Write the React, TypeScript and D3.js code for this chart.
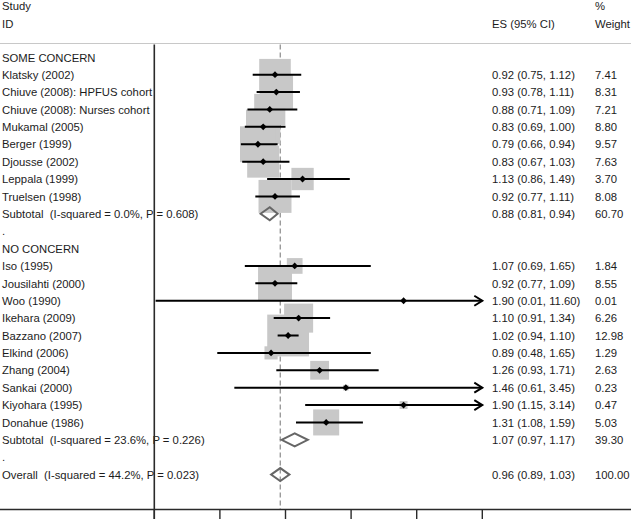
import React from "react";
import * as d3 from "d3";

const W = 631;
const H = 519;

const groupNames = ["SOME CONCERN", "NO CONCERN"];

const studies1 = [
  "Klatsky (2002)",
  "Chiuve (2008): HPFUS cohort",
  "Chiuve (2008): Nurses cohort",
  "Mukamal (2005)",
  "Berger (1999)",
  "Djousse (2002)",
  "Leppala (1999)",
  "Truelsen (1998)",
];
const es1 = [0.92, 0.93, 0.88, 0.83, 0.79, 0.83, 1.13, 0.92];
const lo1 = [0.75, 0.78, 0.71, 0.69, 0.66, 0.67, 0.86, 0.77];
const hi1 = [1.12, 1.11, 1.09, 1.0, 0.94, 1.03, 1.49, 1.11];
const wt1 = [7.41, 8.31, 7.21, 8.8, 9.57, 7.63, 3.7, 8.08];

const studies2 = [
  "Iso (1995)",
  "Jousilahti (2000)",
  "Woo (1990)",
  "Ikehara (2009)",
  "Bazzano (2007)",
  "Elkind (2006)",
  "Zhang (2004)",
  "Sankai (2000)",
  "Kiyohara (1995)",
  "Donahue (1986)",
];
const es2 = [1.07, 0.92, 1.9, 1.1, 1.02, 0.89, 1.26, 1.46, 1.9, 1.31];
const lo2 = [0.69, 0.77, 0.01, 0.91, 0.94, 0.48, 0.93, 0.61, 1.15, 1.08];
const hi2 = [1.65, 1.09, 11.6, 1.34, 1.1, 1.65, 1.71, 3.45, 3.14, 1.59];
const wt2 = [1.84, 8.55, 0.01, 6.26, 12.98, 1.29, 2.63, 0.23, 0.47, 5.03];

const subtotalLabels = [
  "Subtotal  (I-squared = 0.0%, P = 0.608)",
  "Subtotal  (I-squared = 23.6%, P = 0.226)",
];
const subES = [0.88, 1.07];
const subLo = [0.81, 0.97];
const subHi = [0.94, 1.17];
const subWt = [60.7, 39.3];

const overallLabel = "Overall  (I-squared = 44.2%, P = 0.023)";
const overallES = 0.96;
const overallLo = 0.89;
const overallHi = 1.03;
const overallWt = 100.0;

const xTicks = [0, 0.5, 1, 1.5, 2, 2.5];

type Row =
  | { kind: "header"; label: string }
  | { kind: "study"; label: string; es: number; lo: number; hi: number; w: number }
  | { kind: "pooled"; label: string; es: number; lo: number; hi: number; w: number }
  | { kind: "dot" };

function buildRows(): Row[] {
  const rows: Row[] = [];
  const groups = [
    { s: studies1, e: es1, l: lo1, h: hi1, w: wt1 },
    { s: studies2, e: es2, l: lo2, h: hi2, w: wt2 },
  ];
  groups.forEach((g, gi) => {
    rows.push({ kind: "header", label: groupNames[gi] });
    g.s.forEach((s, i) =>
      rows.push({ kind: "study", label: s, es: g.e[i], lo: g.l[i], hi: g.h[i], w: g.w[i] })
    );
    rows.push({
      kind: "pooled",
      label: subtotalLabels[gi],
      es: subES[gi],
      lo: subLo[gi],
      hi: subHi[gi],
      w: subWt[gi],
    });
    rows.push({ kind: "dot" });
  });
  rows.push({
    kind: "pooled",
    label: overallLabel,
    es: overallES,
    lo: overallLo,
    hi: overallHi,
    w: overallWt,
  });
  return rows;
}

const fmt = (v: number) => v.toFixed(2);

export default function App() {
  const rows = buildRows();
  const x = d3.scaleLinear().domain([0, 2.5]).range([154.3, 482.3]);
  const y = d3
    .scaleLinear()
    .domain([0, rows.length - 1])
    .range([57.3, 474.6]);
  const xMax = x.domain()[1];
  const font = "'Liberation Sans', Arial, sans-serif";
  const fs = 11.3;
  const textColor = "#1c1c1c";
  const axisY = 509.5;
  const topLineY = 43.5;
  const esX = 492;
  const wX = 595;
  const boxK = 11.6;
  const diamondH = 6.5;
  const pre = { whiteSpace: "pre" as const };

  const studyRows = rows
    .map((r, i) => ({ r, i }))
    .filter((d) => d.r.kind === "study") as { r: Extract<Row, { kind: "study" }>; i: number }[];
  const pooledRows = rows
    .map((r, i) => ({ r, i }))
    .filter((d) => d.r.kind === "pooled") as { r: Extract<Row, { kind: "pooled" }>; i: number }[];

  return (
    <svg
      width={W}
      height={H}
      style={{ position: "absolute", left: 0, top: 0, background: "#fff" }}
      fontFamily={font}
      fontSize={fs}
    >
      <rect x={0} y={0} width={W} height={H} fill="#fff" />
      {/* header */}
      <text x={2} y={10} fill={textColor}>Study</text>
      <text x={2} y={27.5} fill={textColor}>ID</text>
      <text x={esX} y={27.5} fill={textColor}>ES (95% CI)</text>
      <text x={wX} y={10} fill={textColor}>%</text>
      <text x={wX} y={27.5} fill={textColor}>Weight</text>
      <line x1={0} x2={W} y1={topLineY} y2={topLineY} stroke="#c8c8c8" strokeWidth={1} />

      {/* dashed overall line */}
      <line
        x1={x(overallES)}
        x2={x(overallES)}
        y1={topLineY + 1}
        y2={axisY}
        stroke="#8a8a8a"
        strokeWidth={1.2}
        strokeDasharray="5,3"
      />

      {/* boxes */}
      {studyRows.map(({ r, i }) => {
        const s = boxK * Math.sqrt(r.w);
        return (
          <rect
            key={"b" + i}
            x={x(r.es) - s / 2}
            y={y(i) - s / 2}
            width={s}
            height={s}
            fill="#c8c8c8"
          />
        );
      })}

      {/* left labels */}
      {rows.map((r, i) => {
        if (r.kind === "dot")
          return (
            <text key={"l" + i} x={2} y={y(i) + 4} fill={textColor}>.</text>
          );
        return (
          <text key={"l" + i} x={2} y={y(i) + 4.2} fill={textColor} style={pre}>
            {r.label}
          </text>
        );
      })}

      {/* null line */}
      <line x1={x(0)} x2={x(0)} y1={topLineY + 1} y2={H} stroke="#2a2a2a" strokeWidth={1.6} />

      {/* CI lines and markers */}
      {studyRows.map(({ r, i }) => {
        const yy = y(i);
        const clipped = r.hi > xMax;
        const x2 = x(Math.min(r.hi, xMax));
        const m = 3.4;
        return (
          <g key={"c" + i}>
            <line x1={x(r.lo)} x2={x2} y1={yy} y2={yy} stroke="#000" strokeWidth={2} />
            {clipped && (
              <polyline
                points={`${x2 - 8},${yy - 5} ${x2},${yy} ${x2 - 8},${yy + 5}`}
                fill="none"
                stroke="#000"
                strokeWidth={2}
              />
            )}
            <path
              d={`M${x(r.es) - m},${yy} L${x(r.es)},${yy - m} L${x(r.es) + m},${yy} L${x(r.es)},${yy + m} Z`}
              fill="#000"
            />
          </g>
        );
      })}

      {/* pooled diamonds */}
      {pooledRows.map(({ r, i }) => {
        const yy = y(i);
        return (
          <path
            key={"d" + i}
            d={`M${x(r.lo)},${yy} L${x(r.es)},${yy - diamondH} L${x(r.hi)},${yy} L${x(r.es)},${yy + diamondH} Z`}
            fill="none"
            stroke="#666"
            strokeWidth={2}
          />
        );
      })}

      {/* right columns */}
      {rows.map((r, i) => {
        if (r.kind !== "study" && r.kind !== "pooled") return null;
        return (
          <g key={"r" + i}>
            <text x={esX} y={y(i) + 4.2} fill={textColor}>
              {`${fmt(r.es)} (${fmt(r.lo)}, ${fmt(r.hi)})`}
            </text>
            <text x={wX} y={y(i) + 4.2} fill={textColor}>
              {fmt(r.w)}
            </text>
          </g>
        );
      })}

      {/* x axis */}
      <line x1={0} x2={W} y1={axisY} y2={axisY} stroke="#2a2a2a" strokeWidth={1.6} />
      {xTicks.map((t) => (
        <line key={"t" + t} x1={x(t)} x2={x(t)} y1={axisY} y2={H} stroke="#2a2a2a" strokeWidth={1.4} />
      ))}
    </svg>
  );
}
